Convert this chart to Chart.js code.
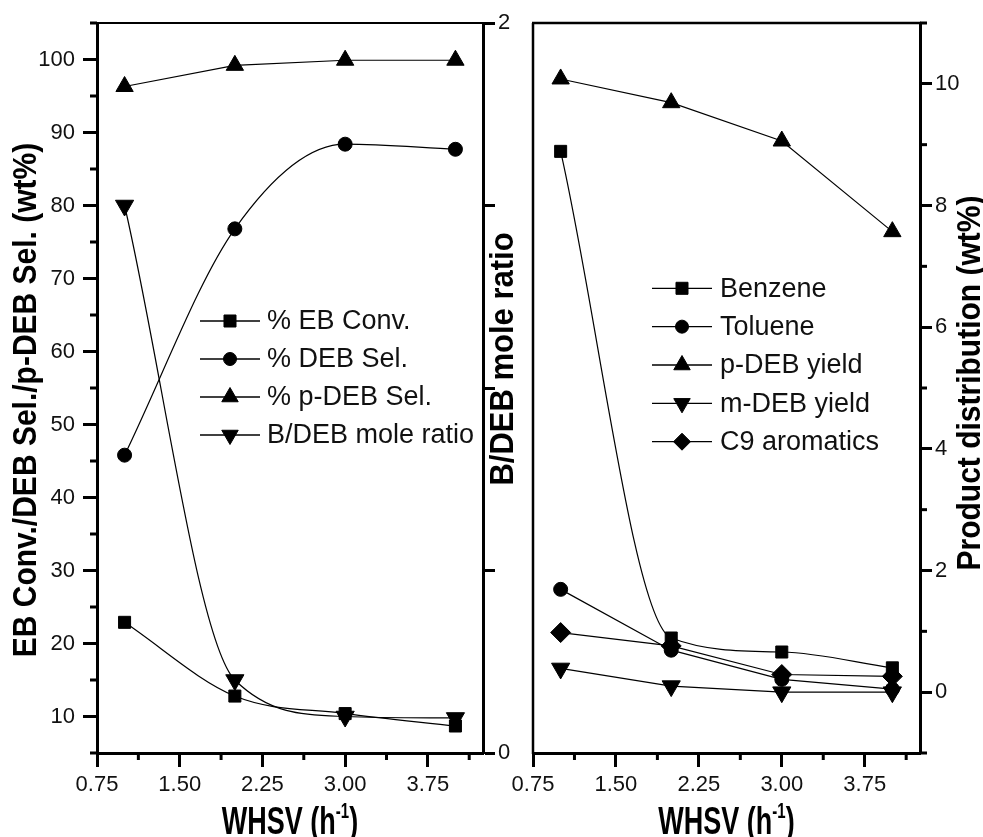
<!DOCTYPE html>
<html><head><meta charset="utf-8">
<script src="https://cdn.jsdelivr.net/npm/chart.js"></script>
<style>
html,body{margin:0;padding:0;background:#fff;overflow:hidden;}
#c1{position:absolute;left:0;top:0;}
#c2{position:absolute;left:500px;top:0;}
</style></head><body>
<canvas id="c1" width="525" height="837"></canvas>
<canvas id="c2" width="483" height="837"></canvas>
<script>
// ---------- data ----------
const whsv = [1, 2, 3, 4];
// left panel
const ebConv    = [22.9, 12.8, 10.4, 8.7];
const debSel    = [45.8, 76.8, 88.4, 87.7];
const pDebSel   = [96.3, 99.2, 99.9, 99.9];
const bDebRatio = [1.50, 0.20, 0.10, 0.096];
// right panel
const benzene    = [8.89, 0.89, 0.66, 0.40];
const toluene    = [1.69, 0.69, 0.21, 0.05];
const pDebYield  = [10.08, 9.69, 9.06, 7.57];
const mDebYield  = [0.39, 0.10, 0.0, 0.0];
const c9Aromatics = [0.98, 0.76, 0.29, 0.26];

const leftLabels  = ['% EB Conv.', '% DEB Sel.', '% p-DEB Sel.', 'B/DEB mole ratio'];
const rightLabels = ['Benzene', 'Toluene', 'p-DEB yield', 'm-DEB yield', 'C9 aromatics'];

// ticks
const xTicks = [0.75, 1.5, 2.25, 3.0, 3.75];
const xMinorTicks = [1.125, 1.875, 2.625, 3.375, 4.125];
const selTicks = [10, 20, 30, 40, 50, 60, 70, 80, 90, 100];
const selMinorTicks = [5, 15, 25, 35, 45, 55, 65, 75, 85, 95, 105];
const ratioTicks = [0, 0.5, 1, 1.5, 2];
const ratioTickLabels = [0, 2];
const prodTicks = [0, 2, 4, 6, 8, 10];
const prodMinorTicks = [-1, 1, 3, 5, 7, 9, 11];

// ---------- helpers ----------
const FONT = '"Liberation Sans", Arial, Helvetica, sans-serif';
const tickFont = {family: FONT, size: 22};

function pts(ys) { return whsv.map((x, i) => ({x: x, y: ys[i]})); }

function series(label, ys, shape, extra) {
  return Object.assign({
    label: label, data: pts(ys), yAxisID: 'y',
    borderColor: '#000', backgroundColor: '#000', borderWidth: 1.2,
    pointStyle: shape, pointRadius: 8, pointHoverRadius: 8, pointBorderWidth: 1,
    pointBackgroundColor: '#000', pointBorderColor: '#000', pointRotation: 0,
    tension: 0, fill: false, clip: false
  }, extra || {});
}

function fixedTicks(values) {
  return function (scale) { scale.ticks = values.map(v => ({value: v})); };
}

function axisBase(extra) {
  const base = {
    type: 'linear',
    ticks: {font: tickFont, color: '#111', autoSkip: false, maxRotation: 0, minRotation: 0},
    grid: {display: true, drawOnChartArea: false, drawTicks: true, tickLength: 14, tickWidth: 3, tickColor: '#000'},
    border: {display: true, width: 3, color: '#000'}
  };
  const out = Object.assign({}, base, extra);
  out.ticks = Object.assign({}, base.ticks, extra.ticks || {});
  out.grid = Object.assign({}, base.grid, extra.grid || {});
  return out;
}

function framePlugin(cfg) {
  return {
    id: 'frame',
    afterDraw(chart) {
      const ctx = chart.ctx, a = chart.chartArea;
      ctx.save();
      ctx.strokeStyle = '#000';
      ctx.lineWidth = cfg.width;
      ctx.beginPath();
      if (cfg.top) { ctx.moveTo(a.left - 1, a.top); ctx.lineTo(a.right + 1, a.top); }
      if (cfg.left) { ctx.moveTo(a.left, a.top); ctx.lineTo(a.left, a.bottom + 1); }
      ctx.stroke();
      ctx.restore();
    }
  };
}

function minorTickPlugin(list) {
  return {
    id: 'minorTicks',
    afterDraw(chart) {
      const ctx = chart.ctx;
      ctx.save();
      ctx.strokeStyle = '#000';
      ctx.lineWidth = 3;
      list.forEach(cfg => {
        const s = chart.scales[cfg.id];
        cfg.values.forEach(v => {
          const p = s.getPixelForValue(v);
          ctx.beginPath();
          if (s.isHorizontal()) { ctx.moveTo(p, s.top); ctx.lineTo(p, s.top + cfg.length); }
          else if (s.position === 'left') { ctx.moveTo(s.right, p); ctx.lineTo(s.right - cfg.length, p); }
          else { ctx.moveTo(s.left, p); ctx.lineTo(s.left + cfg.length, p); }
          ctx.stroke();
        });
      });
      ctx.restore();
    }
  };
}

function titlesPlugin(items) {
  return {
    id: 'axisTitles',
    afterDraw(chart) {
      const ctx = chart.ctx, a = chart.chartArea;
      items.forEach(it => {
        const x = it.x === 'center' ? (a.left + a.right) / 2 : it.x;
        ctx.save();
        ctx.translate(x, it.y);
        if (it.rotate) ctx.rotate(it.rotate);
        ctx.scale(it.sx || 1, it.sy || 1);
        ctx.fillStyle = '#000';
        ctx.textBaseline = it.baseline || 'middle';
        ctx.textAlign = 'left';
        const fontOf = p => 'bold ' + (p.sup ? Math.round(it.size * 0.55) : it.size) + 'px ' + FONT;
        let total = 0;
        const widths = it.parts.map(p => { ctx.font = fontOf(p); const w = ctx.measureText(p.t).width; total += w; return w; });
        let cx = -total / 2;
        it.parts.forEach((p, i) => {
          ctx.font = fontOf(p);
          ctx.fillText(p.t, cx, p.sup ? -it.size * 0.42 : 0);
          cx += widths[i];
        });
        ctx.restore();
      });
    }
  };
}

function legendPlugin(cfg) {
  return {
    id: 'innerLegend',
    afterDatasetsDraw(chart) {
      const ctx = chart.ctx;
      chart.data.datasets.forEach((d, i) => {
        const y = cfg.y0 + i * cfg.dy;
        ctx.save();
        ctx.strokeStyle = '#000';
        ctx.fillStyle = '#000';
        ctx.lineWidth = 1.3;
        ctx.beginPath(); ctx.moveTo(cfg.x0, y); ctx.lineTo(cfg.x1, y); ctx.stroke();
        ctx.lineWidth = 1;
        Chart.helpers.drawPoint(ctx, {pointStyle: d.pointStyle, radius: cfg.radii[i], rotation: d.pointRotation || 0, borderWidth: 1}, (cfg.x0 + cfg.x1) / 2, y);
        ctx.font = '27px ' + FONT;
        ctx.fillStyle = '#111';
        ctx.textAlign = 'left';
        ctx.textBaseline = 'middle';
        ctx.fillText(d.label, cfg.xText, y + 1);
        ctx.restore();
      });
    }
  };
}

const xTitleParts = [{t: 'WHSV (h'}, {t: '-1', sup: true}, {t: ')'}];

// ---------- left chart ----------
new Chart(document.getElementById('c1'), {
  type: 'scatter',
  data: {
    datasets: [
      series(leftLabels[0], ebConv, 'rect', {pointRadius: 8.5, cubicInterpolationMode: 'monotone', tension: 0.4, showLine: true}),
      series(leftLabels[1], debSel, 'circle', {pointRadius: 7, cubicInterpolationMode: 'monotone', tension: 0.4, showLine: true}),
      series(leftLabels[2], pDebSel, 'triangle', {pointRadius: 10, showLine: true}),
      series(leftLabels[3], bDebRatio, 'triangle', {pointRadius: 10.5, pointRotation: 180, yAxisID: 'y2', cubicInterpolationMode: 'monotone', tension: 0.4, showLine: true})
    ]
  },
  options: {
    responsive: false, animation: false, events: [],
    layout: {padding: {top: 23, left: 0, right: 0, bottom: 0}},
    plugins: {legend: {display: false}, tooltip: {enabled: false}},
    scales: {
      x: axisBase({
        position: 'bottom', min: 0.75, max: 4.25,
        afterBuildTicks: fixedTicks(xTicks),
        afterFit: s => { s.height = 84; },
        ticks: {padding: 5, callback: v => Number(v).toFixed(2)}
      }),
      y: axisBase({
        position: 'left', min: 5, max: 105,
        afterBuildTicks: fixedTicks(selTicks),
        afterFit: s => { s.width = 97; },
        ticks: {padding: 8, callback: v => String(v)}
      }),
      y2: axisBase({
        position: 'right', min: 0, max: 2,
        afterBuildTicks: fixedTicks(ratioTicks),
        afterFit: s => { s.width = 42; },
        grid: {tickLength: 12},
        ticks: {padding: 3, callback: v => ratioTickLabels.includes(v) ? String(v) : ''}
      })
    }
  },
  plugins: [
    framePlugin({top: true, left: false, width: 2}),
    minorTickPlugin([{id: 'x', values: xMinorTicks, length: 7}, {id: 'y', values: selMinorTicks, length: 7}]),
    legendPlugin({x0: 200, x1: 260, xText: 267, y0: 321, dy: 38, radii: [8.5, 6.5, 9.5, 9.5]}),
    titlesPlugin([
      {parts: [{t: 'EB Conv./DEB Sel./p-DEB Sel. (wt%)'}], x: 27, y: 400, rotate: -Math.PI / 2, size: 30, sy: 1.1},
      {parts: [{t: 'B/DEB mole ratio'}], x: 504, y: 359, rotate: -Math.PI / 2, size: 31, sy: 1.05},
      {parts: xTitleParts, x: 'center', y: 834, baseline: 'alphabetic', size: 27, sy: 1.45}
    ])
  ]
});

// ---------- right chart ----------
new Chart(document.getElementById('c2'), {
  type: 'scatter',
  data: {
    datasets: [
      series(rightLabels[0], benzene, 'rect', {pointRadius: 8.5, cubicInterpolationMode: 'monotone', tension: 0.4, showLine: true}),
      series(rightLabels[1], toluene, 'circle', {pointRadius: 7, showLine: true}),
      series(rightLabels[2], pDebYield, 'triangle', {pointRadius: 10, showLine: true}),
      series(rightLabels[3], mDebYield, 'triangle', {pointRadius: 10.5, pointRotation: 180, showLine: true}),
      series(rightLabels[4], c9Aromatics, 'rectRot', {pointRadius: 10, showLine: true})
    ]
  },
  options: {
    responsive: false, animation: false, events: [],
    layout: {padding: {top: 23, left: 33, right: 0, bottom: 0}},
    plugins: {legend: {display: false}, tooltip: {enabled: false}},
    scales: {
      x: axisBase({
        position: 'bottom', min: 0.75, max: 4.25,
        afterBuildTicks: fixedTicks(xTicks),
        afterFit: s => { s.height = 84; },
        ticks: {padding: 5, callback: v => Number(v).toFixed(2)}
      }),
      y: axisBase({
        position: 'right', min: -1, max: 11,
        afterBuildTicks: fixedTicks(prodTicks),
        afterFit: s => { s.width = 63; },
        grid: {tickLength: 12},
        ticks: {padding: 3, callback: v => String(v)}
      })
    }
  },
  plugins: [
    framePlugin({top: true, left: true, width: 2.5}),
    minorTickPlugin([{id: 'x', values: xMinorTicks, length: 7}, {id: 'y', values: prodMinorTicks, length: 7}]),
    legendPlugin({x0: 152, x1: 212, xText: 220, y0: 288.3, dy: 38.35, radii: [8.5, 6.5, 9.5, 9.5, 8.5]}),
    titlesPlugin([
      {parts: [{t: 'Product distribution (wt%)'}], x: 471, y: 383, rotate: -Math.PI / 2, size: 30, sy: 1.1},
      {parts: xTitleParts, x: 'center', y: 834, baseline: 'alphabetic', size: 27, sy: 1.45}
    ])
  ]
});
</script>
</body></html>
